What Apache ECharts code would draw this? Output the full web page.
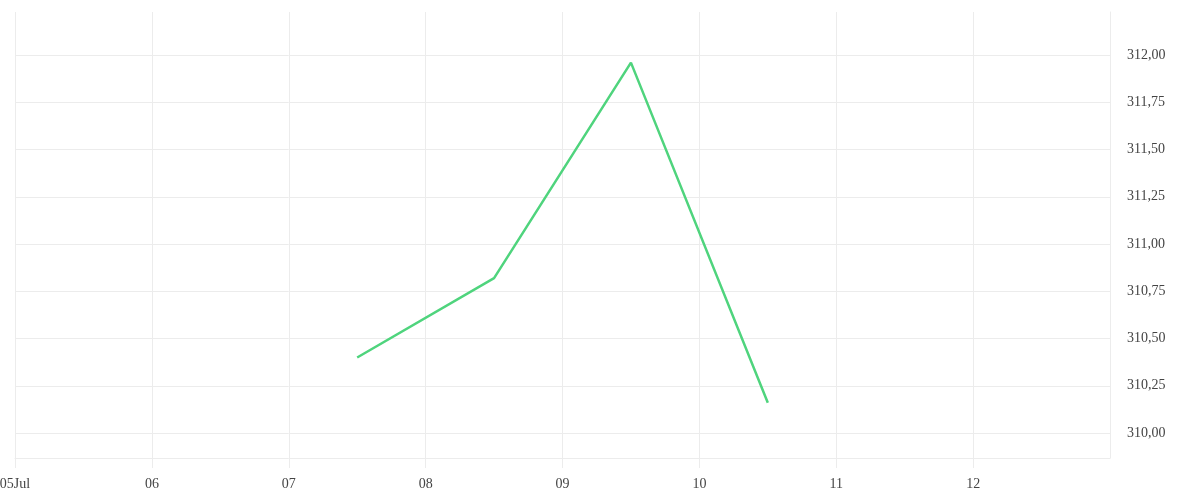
<!DOCTYPE html>
<html>
<head>
<meta charset="utf-8">
<script src="https://cdn.jsdelivr.net/npm/echarts@6/dist/echarts.min.js"></script>
<style>html,body{margin:0;padding:0;background:#fff}#chart{width:1200px;height:500px}</style>
</head>
<body>
<div id="chart"></div>
<script>
var DAY = 86400000;
var dates = ['2024-07-07T12:00:00Z', '2024-07-08T12:00:00Z', '2024-07-09T12:00:00Z', '2024-07-10T12:00:00Z'];
var values = [310.40, 310.82, 311.96, 310.16];
var yTicks = [310.00, 310.25, 310.50, 310.75, 311.00, 311.25, 311.50, 311.75, 312.00];
var xMin = Date.UTC(2024, 6, 5);
var xMax = Date.UTC(2024, 6, 13);
var months = ['Jan','Feb','Mar','Apr','May','Jun','Jul','Aug','Sep','Oct','Nov','Dec'];

var chart = echarts.init(document.getElementById('chart'), null, {renderer: 'canvas'});
var font = 'Liberation Serif';
var gridColor = '#ececec';
chart.setOption({
  animation: false,
  grid: {left: 15, right: 90, top: 12, bottom: 42, containLabel: false, outerBoundsMode: 'none'},
  xAxis: {
    type: 'value',
    min: xMin, max: xMax, interval: DAY,
    axisLine: {show: true, lineStyle: {color: gridColor, width: 1}},
    axisTick: {show: true, length: 10, lineStyle: {color: gridColor}},
    splitLine: {show: true, lineStyle: {color: gridColor, width: 1}},
    axisLabel: {
      margin: 19,
      color: '#444',
      fontFamily: font,
      fontSize: 14,
      showMaxLabel: false,
      hideOverlap: false,
      formatter: function (v) {
        var d = new Date(v);
        var dd = ('0' + d.getUTCDate()).slice(-2);
        return v === xMin ? dd + months[d.getUTCMonth()] : dd;
      }
    }
  },
  yAxis: {
    type: 'value',
    position: 'right',
    min: 309.868, max: 312.228,
    axisLine: {show: true, lineStyle: {color: gridColor, width: 1}},
    axisTick: {show: false, customValues: yTicks},
    splitLine: {show: true, lineStyle: {color: gridColor, width: 1}},
    axisLabel: {
      customValues: yTicks,
      margin: 17,
      padding: [5, 0, 0, 0],
      color: '#444',
      fontFamily: font,
      fontSize: 14,
      formatter: function (v) { return v.toFixed(2).replace('.', ','); }
    }
  },
  series: [{
    type: 'line',
    data: dates.map(function (d, i) { return [Date.parse(d), values[i]]; }),
    showSymbol: false,
    symbol: 'none',
    lineStyle: {color: '#4fd47d', width: 2.5}
  }]
});
</script>
</body>
</html>
